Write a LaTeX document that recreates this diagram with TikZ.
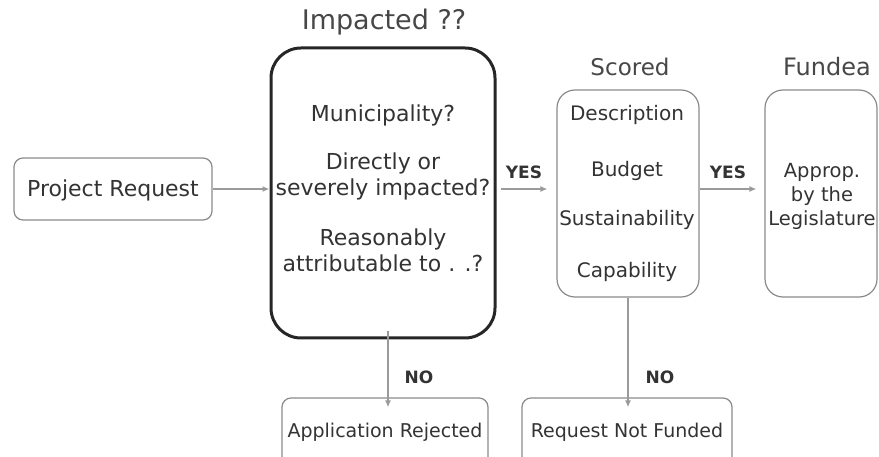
\documentclass[tikz,border=0pt]{standalone}
\usepackage{fontspec}
\setmainfont{DejaVu Sans}
\usetikzlibrary{arrows.meta}
\definecolor{txt}{HTML}{333333}
\definecolor{boxgray}{HTML}{8A8A8A}
\definecolor{arrgray}{HTML}{9A9A9A}
\definecolor{dark}{HTML}{262626}
\tikzset{
  plainbox/.style={draw=boxgray, line width=1.2pt, rounded corners=9pt, inner sep=0pt},
  bigbox/.style={draw=dark, line width=3pt, rounded corners=30pt, inner sep=0pt},
  body/.style={text=txt, font=\fontsize{19}{26}\selectfont, align=center, inner sep=0pt},
  bodyl/.style={body, font=\fontsize{22}{26}\selectfont},
  bodym/.style={body, font=\fontsize{20}{24}\selectfont},
  title/.style={text=txt!90, font=\fontsize{23}{28}\selectfont, inner sep=0pt},
  lbl/.style={text=txt, font=\bfseries\fontsize{17}{20}\selectfont, inner sep=0pt},
  flow/.style={draw=arrgray, line width=1.6pt, -{Latex[length=7pt,width=6pt]}}
}
\begin{document}
\begin{tikzpicture}[x=1pt,y=-1pt]
\useasboundingbox (0,0) rectangle (879,457);
\clip (0,0) rectangle (879,457);
% boxes
\node[plainbox, minimum width=198pt, minimum height=62pt] (proj) at (113,189) {};
\node[bigbox, minimum width=224pt, minimum height=290pt] (imp) at (383,193) {};
\node[plainbox, rounded corners=18pt, minimum width=142pt, minimum height=207pt] (scored) at (628,193.5) {};
\node[plainbox, rounded corners=18pt, minimum width=112pt, minimum height=207pt] (funded) at (821,193.5) {};
\node[plainbox, minimum width=206pt, minimum height=82pt] (rej) at (385,439) {};
\node[plainbox, minimum width=210pt, minimum height=82pt] (nf) at (627,439) {};
% texts
\node[bodyl] (tproj) at (113,190) {Project Request};
\node[title, font=\fontsize{27}{30}\selectfont] (timp) at (384,22) {Impacted ??};
\node[bodyl] (t1) at (383,115) {Municipality?};
\node[bodyl] (t2) at (383,176) {Directly or\\severely impacted?};
\node[bodyl] (t3) at (383,250) {Reasonably\\attributable to . .?};
\node[title] (tsc) at (630,67) {Scored};
\node[bodym] (s1) at (627,115) {Description};
\node[bodym] (s2) at (627,171) {Budget};
\node[bodym] (s3) at (627,220) {Sustainability};
\node[bodym] (s4) at (627,272) {Capability};
\node[title, font=\fontsize{24}{28}\selectfont] (tfu) at (827,67) {Fundea};
\node[body, font=\fontsize{19.5}{24}\selectfont] (f1) at (822,196) {Approp.\\by the\\Legislature};
\node[body] (trej) at (385,432) {Application Rejected};
\node[body] (tnf) at (627,432) {Request Not Funded};
% labels
\node[lbl] (yes1) at (524,172) {YES};
\node[lbl] (yes2) at (728,172) {YES};
\node[lbl] (no1) at (419,377) {NO};
\node[lbl] (no2) at (660,377) {NO};
% connectors
\coordinate (ymid) at (0,189);
\draw[flow] (proj.east |- ymid) -- (imp.west |- ymid);
\draw[flow, shorten <=4pt] (imp.east |- ymid) -- ([xshift=-9pt]scored.west |- ymid);
\draw[flow] (scored.east |- ymid) -- ([xshift=-8pt]funded.west |- ymid);
\coordinate (xa) at (388,0);
\coordinate (xb) at (628,0);
\draw[flow] ([yshift=8pt]xa |- imp.south) -- ([yshift=-10pt]xa |- rej.north);
\draw[flow] (xb |- scored.south) -- ([yshift=-10pt]xb |- nf.north);
\end{tikzpicture}
\end{document}
